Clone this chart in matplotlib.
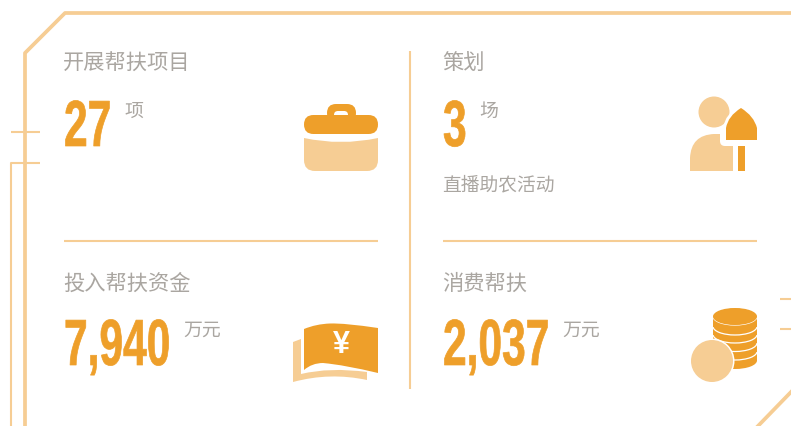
#!/usr/bin/env python3

import matplotlib
matplotlib.use('Agg')
import matplotlib.pyplot as plt
from matplotlib.patches import Circle, Ellipse, PathPatch, Rectangle
from matplotlib.path import Path
from matplotlib.patheffects import AbstractPathEffect
from matplotlib.transforms import Affine2D

plt.rcParams['font.family'] = ['Noto Sans CJK SC', 'DejaVu Sans']

DARK = '#ee9f2a'
LIGHT = '#f6cd94'
GREY = '#aaa6a1'

titles = ['开展帮扶项目', '策划', '投入帮扶资金', '消费帮扶']
values = ['27', '3', '7,940', '2,037']
units = ['项', '场', '万元', '万元']
notes = ['', '直播助农活动', '', '']

title_pos = [(63, 64), (442, 64), (63, 284), (442, 284)]
value_pos = [(64, 146), (443, 146), (64, 365), (443, 365)]
unit_pos = [(124, 111), (479, 111), (183, 330), (562, 330)]

HEIGHT = 426


class Tall(AbstractPathEffect):
    # stretches a text upwards from its baseline, which gives the condensed look
    # of the numbers (no condensed font installed)
    def __init__(self, x0, y0, sx, sy):
        super().__init__()
        self.x0, self.y0 = x0, y0
        self.sx, self.sy = sx, sy

    def draw_path(self, renderer, gc, tpath, affine, rgbFace=None):
        stretch = (Affine2D().translate(-self.x0, -self.y0).scale(self.sx, self.sy)
                   .translate(self.x0, self.y0))
        gc0 = renderer.new_gc()
        gc0.copy_properties(gc)
        gc0.set_linewidth(0.5)
        gc0.set_foreground(rgbFace)
        renderer.draw_path(gc0, tpath, affine + stretch, rgbFace)
        gc0.restore()


def shape(ax, points, color, **kw):
    # points: (x, y) are lines, (x1, y1, x, y) are quadratic curves
    verts, codes = [], []
    for i, p in enumerate(points):
        if len(p) == 2:
            verts.append(p)
            codes.append(Path.MOVETO if i == 0 else Path.LINETO)
        else:
            verts += [p[:2], p[2:]]
            codes += [Path.CURVE3, Path.CURVE3]
    verts.append(points[0][:2])
    codes.append(Path.CLOSEPOLY)
    ax.add_patch(PathPatch(Path(verts, codes), fc=color, ec='none', **kw))


def rounded(ax, x0, y0, x1, y1, r, color):
    shape(ax, [(x0 + r, y0), (x1 - r, y0), (x1, y0, x1, y0 + r), (x1, y1 - r),
               (x1, y1, x1 - r, y1), (x0 + r, y1), (x0, y1, x0, y1 - r), (x0, y0 + r),
               (x0, y0, x0 + r, y0)], color)


def draw_frame(ax):
    lw = 2.7
    ax.plot([791, 65, 25, 25], [13, 13, 53, 426], color=LIGHT, lw=lw)
    ax.plot([11, 40], [132, 132], color=LIGHT, lw=1.5, solid_capstyle='butt')
    ax.plot([40, 11, 11], [163, 163, 426], color=LIGHT, lw=1.5, solid_capstyle='butt')
    ax.plot([780, 791], [299, 299], color=LIGHT, lw=1.5, solid_capstyle='butt')
    ax.plot([780, 791], [329, 329], color=LIGHT, lw=1.5, solid_capstyle='butt')
    ax.plot([758, 791], [426, 392], color=LIGHT, lw=lw)

    ax.plot([410, 410], [51, 389], color=LIGHT, lw=1.5, solid_capstyle='butt')
    ax.plot([64, 378], [241, 241], color=LIGHT, lw=1.5, solid_capstyle='butt')
    ax.plot([443, 757], [241, 241], color=LIGHT, lw=1.5, solid_capstyle='butt')


def draw_briefcase(ax):
    rounded(ax, 327, 104, 356, 122, 9, DARK)
    rounded(ax, 334, 111, 348, 120, 4, 'white')
    rounded(ax, 304, 115, 378, 134, 9.5, DARK)
    shape(ax, [(304, 138), (341, 146, 378, 138), (378, 160), (378, 171, 367, 171),
               (315, 171), (304, 171, 304, 160)], LIGHT)


def draw_person(ax):
    ax.add_patch(Circle((714, 112), 15.5, fc=LIGHT, ec='none'))
    shape(ax, [(690, 171), (690, 158), (691, 135, 714, 134), (720, 134), (720, 141),
               (720, 146, 725, 146), (733, 146), (733, 171)], LIGHT)
    # shovel
    shape(ax, [(723, 143), (723, 128), (725, 114, 741, 104), (757, 114, 760, 128),
               (760, 143)], 'white')
    shape(ax, [(726, 140), (726, 128), (728, 116, 741, 108), (754, 116, 757, 128),
               (757, 140)], DARK)
    ax.add_patch(Rectangle((738, 146), 7, 25, fc=DARK, ec='none'))


def draw_money(ax):
    shape(ax, [(293, 342), (301, 339), (301, 374), (330, 367, 367, 372), (367, 380),
               (330, 372, 293, 382)], LIGHT)
    shape(ax, [(304, 329), (316, 324, 330, 323.5), (345, 323, 378, 328), (378, 373),
               (345, 365, 323, 363), (312, 363, 304, 370)], DARK)
    ax.text(341, 345, '¥', color='white', fontsize=22, fontweight='bold', ha='center', va='center',
            family=['Liberation Sans', 'DejaVu Sans'])


def draw_coins(ax):
    # bottom to top: each band is an ellipse and the next one sits on a filled block
    centers = [360.5, 351.5, 343, 334.5, 326.5, 316.5]
    for i, c in enumerate(centers):
        if i > 0:
            ax.add_patch(Rectangle((713, c), 44, centers[i - 1] - c, fc=DARK, ec='none'))
        ax.add_patch(Ellipse((735, c), 44, 17, fc=DARK, ec='white' if i > 0 else 'none', lw=0.9))
    ax.add_patch(Ellipse((735, 316.5), 44, 17, fc=DARK, ec='none'))
    ax.add_patch(Circle((712, 361), 22.5, fc='white', ec='none'))
    ax.add_patch(Circle((712, 361), 21, fc=LIGHT, ec='none'))


def main():
    fig = plt.figure(figsize=(7.91, 4.26), dpi=100)
    ax = fig.add_axes([0, 0, 1, 1])
    ax.set_xlim(0, 791)
    ax.set_ylim(HEIGHT, 0)
    ax.axis('off')

    draw_frame(ax)
    draw_briefcase(ax)
    draw_person(ax)
    draw_money(ax)
    draw_coins(ax)

    for i in range(4):
        ax.text(title_pos[i][0], title_pos[i][1], titles[i], color=GREY, fontsize=15.3,
                va='center', ha='left')
        x, y = value_pos[i]
        ax.text(x, y, values[i], color=DARK, fontsize=30, fontweight='bold',
                va='baseline', ha='left', family=['Liberation Sans', 'DejaVu Sans'],
                path_effects=[Tall(x, HEIGHT - y, 1.02, 47 / 30)])
        ax.text(unit_pos[i][0], unit_pos[i][1], units[i], color=GREY, fontsize=13.6,
                va='center', ha='left')
        if notes[i]:
            ax.text(x - 1, 185, notes[i], color=GREY, fontsize=13.5, va='center', ha='left')

    fig.savefig('out.png', dpi=100, facecolor='white')


if __name__ == '__main__':
    main()
